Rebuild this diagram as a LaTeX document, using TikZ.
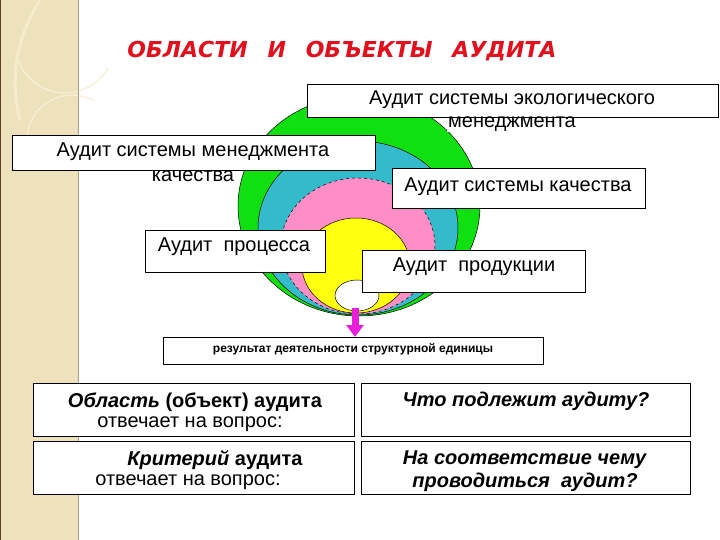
\documentclass[tikz,border=0pt]{standalone}
\usepackage{fontspec}
\setmainfont{Liberation Sans}
\newfontfamily\nar{Liberation Sans}
\newfontfamily\ttlfont{DejaVu Sans}
\usetikzlibrary{arrows.meta}
\definecolor{beige}{HTML}{EEE2BC}
\definecolor{beigeline}{HTML}{F8F0D8}
\definecolor{titlered}{HTML}{E2101C}
\definecolor{egreen}{HTML}{10E010}
\definecolor{ecyan}{HTML}{33BBCC}
\definecolor{epink}{HTML}{FF8EC6}
\definecolor{eyellow}{HTML}{FFFF10}
\definecolor{emag}{HTML}{E81ED8}
\tikzset{
  box/.style={draw=black, fill=white, line width=0.8pt, anchor=north west, inner sep=0pt},
  lbl/.style={font=\nar\fontsize{20}{23}\selectfont, inner sep=1pt},
  lblw/.style={lbl, fill=white},
  tbl/.style={font=\nar\fontsize{20}{23}\selectfont, inner sep=1pt},
  lay/.style={draw=black, line width=0.5pt},
  rim/.style={draw=black, line width=0.8pt}
}
\begin{document}
\begin{tikzpicture}[x=1pt,y=-1pt]
\useasboundingbox (0,0) rectangle (720,540);
\fill[white] (0,0) rectangle (720,540);
% left decorative stripe
\fill[beige] (0,0) rectangle (78,540);
\draw[beigeline, line width=1.2pt] (18,60) arc[start angle=200, end angle=330, x radius=50, y radius=-50];
\draw[beigeline, line width=1.2pt] (27,140) arc[start angle=180, end angle=60, x radius=45, y radius=-45];
\draw[beigeline!70!beige, line width=3pt] (40,0) .. controls (15,40) and (10,80) .. (20,120);
\draw[black!50!brown, line width=1.4pt] (0.7,0) -- (0.7,540);
\draw[black!30!beige, line width=0.8pt] (78,0) -- (78,540);
% title
\node[text=titlered, font=\ttlfont\bfseries\itshape\fontsize{22}{26}\selectfont] (title) at (342,51)
  {ОБЛАСТИ\hspace{0.9em}И\hspace{0.9em}ОБЪЕКТЫ\hspace{0.9em}АУДИТА};
% nested areas
\filldraw[lay, fill=egreen] (359,206) ellipse [x radius=121, y radius=110];
\filldraw[lay, fill=ecyan] (358,228) ellipse [x radius=100, y radius=87];
\fill[epink] (358,246) ellipse [x radius=77, y radius=68];
\draw[lay, dashed] (358,246) ellipse [x radius=77, y radius=68];
\filldraw[lay, fill=eyellow] (356,265.5) ellipse [x radius=54, y radius=47.5];
\filldraw[lay, fill=white] (357,295.5) ellipse [x radius=22, y radius=15.5];
\coordinate (bottom) at (355,308);
% boxes
\node[box, minimum width=411, minimum height=33] (b1) at (307,84) {};
\node[lbl] (t1) at (512,100) {Аудит системы экологического};
\node[lblw] (t1b) at (512,124) {менеджмента};
\node[box, minimum width=363, minimum height=35] (b2) at (12,135) {};
\node[lbl] (t2) at (193,152) {Аудит системы менеджмента};
\node[lblw] (t2b) at (193,176) {качества};
\draw[rim] (b1.north west) rectangle (b1.south east);
\draw[rim] (b2.north west) rectangle (b2.south east);
\node[box, minimum width=253, minimum height=40] (b3) at (392,168) {};
\node[lbl] (t3) at (518,187) {Аудит системы качества};
\node[box, minimum width=180, minimum height=42] (b4) at (145,230) {};
\node[lbl] (t4) at (234,247) {Аудит\ \ процесса};
\node[box, minimum width=223, minimum height=42] (b5) at (362,250) {};
\node[lbl] (t5) at (474,267) {Аудит\ \ продукции};
\node[box, minimum width=380, minimum height=27] (res) at (163,337) {};
\node[font=\nar\bfseries\fontsize{12}{14}\selectfont] (tres) at (353,349) {результат деятельности структурной единицы};
\draw[emag, line width=7pt, -{Triangle[width=17pt,length=12pt]}] (bottom) -- (res.north -| bottom);
% table
\node[box, minimum width=321, minimum height=53] (q1) at (33,383) {};
\node[box, minimum width=329, minimum height=53] (a1) at (361,383) {};
\node[box, minimum width=321, minimum height=53] (q2) at (33,441) {};
\node[box, minimum width=329, minimum height=53] (a2) at (361,441) {};
\node[tbl] (q1a) at (195,402) {\textbf{\textit{Область} (объект) аудита}};
\node[tbl] (q1b) at (190,424) {отвечает на вопрос:};
\node[tbl] (a1a) at (526,401) {\textbf{\textit{Что подлежит аудиту?}}};
\node[tbl] (q2a) at (215,460) {\textbf{\textit{Критерий} аудита}};
\node[tbl] (q2b) at (188,482) {отвечает на вопрос:};
\node[tbl] (a2a) at (525,460) {\textbf{\textit{На соответствие чему}}};
\node[tbl] (a2b) at (525,482) {\textbf{\textit{проводиться\ \ аудит?}}};
\end{tikzpicture}
\end{document}
